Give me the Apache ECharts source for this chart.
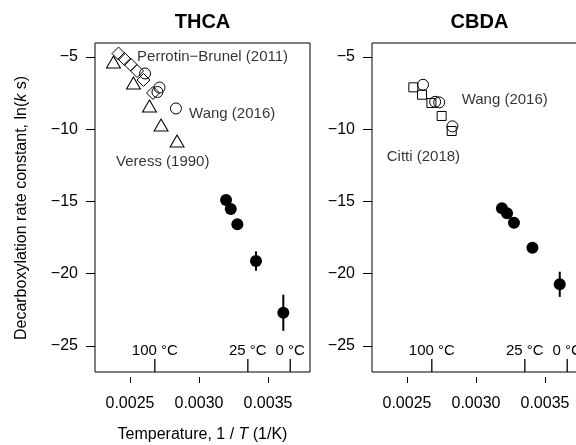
<!DOCTYPE html>
<html>
<head>
<meta charset="utf-8">
<script src="https://cdn.jsdelivr.net/npm/echarts@6/dist/echarts.min.js"></script>
<style>
  html, body { margin: 0; padding: 0; background: #fff; }
  #chart { width: 576px; height: 445px; }
</style>
</head>
<body>
<div id="chart"></div>
<script>
// THCA (left panel)
const thcaVeressX = [0.002380, 0.002525, 0.002641, 0.002725, 0.002841]
const thcaVeressY = [-5.35, -6.80, -8.39, -9.71, -10.81]
const thcaPerrotinX = [0.002417, 0.002460, 0.002504, 0.002551, 0.002598, 0.002667]
const thcaPerrotinY = [-4.76, -5.14, -5.52, -5.97, -6.59, -7.49]
const thcaWangX = [0.002609, 0.002714, 0.002699, 0.002833]
const thcaWangY = [-6.14, -7.11, -7.42, -8.56]
const thcaOwnX = [0.003196, 0.003230, 0.003278, 0.003413, 0.003611]
const thcaOwnY = [-14.90, -15.52, -16.58, -19.12, -22.70]
const thcaOwnErr = [0.15, 0.15, 0.15, 0.67, 1.25]

// CBDA (right panel)
const cbdaCittiX = [0.002546, 0.002609, 0.002677, 0.002751, 0.002824]
const cbdaCittiY = [-7.10, -7.61, -8.18, -9.08, -10.12]
const cbdaWangX = [0.002616, 0.002704, 0.002733, 0.002829]
const cbdaWangY = [-6.92, -8.10, -8.14, -9.80]
const cbdaOwnX = [0.003188, 0.003225, 0.003275, 0.003409, 0.003607]
const cbdaOwnY = [-15.47, -15.82, -16.47, -18.20, -20.73]
const cbdaOwnErr = [0.15, 0.15, 0.15, 0.20, 0.87]

// axes
const xTicks = [0.0025, 0.0030, 0.0035]
const yTicks = [-25, -20, -15, -10, -5]
const tempC = [100, 25, 0]
const tempLabels = ['100 °C', '25 °C', '0 °C']
const tempX = tempC.map(t => 1 / (t + 273.15))
const xMin = 0.0022464
const xMax = 0.0038044
const yMin = -26.80
const yMax = -4.03

// in-panel labels
const thcaNotes = [
  { name: 'Perrotin−Brunel (2011)', value: [0.002551, -5.0] },
  { name: 'Wang (2016)', value: [0.002928, -8.94] },
  { name: 'Veress (1990)', value: [0.002399, -12.27] }
]
const cbdaNotes = [
  { name: 'Wang (2016)', value: [0.002896, -7.98] },
  { name: 'Citti (2018)', value: [0.002353, -11.92] }
]

const font = '"Liberation Sans", Arial, Helvetica, sans-serif'
const zip = (xs, ys) => xs.map((x, i) => [x, ys[i]])
const zip3 = (xs, ys, es) => xs.map((x, i) => [x, ys[i], es[i]])

const chart = echarts.init(document.getElementById('chart'), null, { renderer: 'canvas' })

// temperature labels sit inside the panel, above the bottom edge
const tempAxis = gi => ({
  type: 'value', gridIndex: gi, min: xMin, max: xMax, position: 'bottom',
  axisLine: { show: false },
  splitLine: { show: false },
  axisTick: { show: false },
  axisLabel: {
    show: true, inside: true, margin: 14, customValues: tempX,
    color: '#000', fontSize: 15, fontFamily: font,
    formatter: v => {
      let best = 0
      tempX.forEach((t, i) => { if (Math.abs(t - v) < Math.abs(tempX[best] - v)) best = i })
      return tempLabels[best]
    }
  }
})

const numAxis = gi => ({
  type: 'value', gridIndex: gi, min: xMin, max: xMax, position: 'bottom', offset: 5,
  axisLine: { show: false },
  splitLine: { show: false },
  axisTick: { show: true, length: 6, customValues: xTicks, lineStyle: { color: '#000', width: 1 } },
  axisLabel: {
    show: true, margin: 19, customValues: xTicks,
    color: '#000', fontSize: 16, fontFamily: font,
    formatter: v => v.toFixed(4)
  }
})

const yAxis = gi => ({
  type: 'value', gridIndex: gi, min: yMin, max: yMax,
  axisLine: { show: false },
  splitLine: { show: false },
  axisTick: { show: true, length: 9, customValues: yTicks, lineStyle: { color: '#000', width: 1 } },
  axisLabel: {
    show: true, margin: 17, customValues: yTicks,
    color: '#000', fontSize: 16, fontFamily: font,
    formatter: v => (v < 0 ? '\u2212' : '') + Math.abs(v)
  }
})

const openStyle = { color: 'rgba(0,0,0,0)', borderColor: '#000', borderWidth: 1, opacity: 1 }
const fillStyle = { color: '#000', opacity: 1 }

const scatter = (xi, yi, data, symbol, size, style) => ({
  type: 'scatter', xAxisIndex: xi, yAxisIndex: yi, data,
  symbol, symbolSize: size, itemStyle: style, z: 3, silent: true
})

// vertical segment around each point: [x, y, half-length in data units]
const errBars = (xi, yi, data) => ({
  type: 'custom', xAxisIndex: xi, yAxisIndex: yi, data, z: 2, silent: true,
  encode: { x: 0, y: 1 },
  renderItem: (params, api) => {
    const x = api.value(0), y = api.value(1), e = api.value(2)
    const p1 = api.coord([x, y - e])
    const p2 = api.coord([x, y + e])
    return {
      type: 'line',
      shape: { x1: p1[0], y1: p1[1], x2: p1[0], y2: p2[1] },
      style: { stroke: '#000', lineWidth: 2 }
    }
  }
})

// short upward ticks from the panel floor at the temperature marks
const tempTicks = (xi, yi) => ({
  type: 'custom', xAxisIndex: xi, yAxisIndex: yi, z: 4, silent: true,
  data: tempX.map(t => [t, -26]),
  encode: { x: 0, y: 1 },
  renderItem: (params, api) => {
    const p = api.coord([api.value(0), yMin])
    return {
      type: 'line',
      shape: { x1: p[0], y1: p[1], x2: p[0], y2: p[1] - 13 },
      style: { stroke: '#000', lineWidth: 1.3 }
    }
  }
})

const notes = (xi, yi, data) => ({
  type: 'scatter', xAxisIndex: xi, yAxisIndex: yi, data, symbolSize: 0, silent: true,
  label: { show: true, position: 'right', distance: 0, formatter: '{b}', color: '#000', fontSize: 15, fontFamily: font }
})

chart.setOption({
  animation: false,
  backgroundColor: '#fff',
  grid: [
    { left: 95, top: 43, width: 215, height: 329, show: true, borderColor: '#000', borderWidth: 1, outerBoundsMode: 'none' },
    { left: 372, top: 43, width: 215, height: 329, show: true, borderColor: '#000', borderWidth: 1, outerBoundsMode: 'none' }
  ],
  xAxis: [tempAxis(0), numAxis(0), tempAxis(1), numAxis(1)],
  yAxis: [yAxis(0), yAxis(1)],
  graphic: [
    { type: 'text', x: 202.5, y: 22, style: { text: 'THCA', align: 'center', verticalAlign: 'middle', font: 'bold 20px ' + font, fill: '#000' } },
    { type: 'text', x: 479.5, y: 22, style: { text: 'CBDA', align: 'center', verticalAlign: 'middle', font: 'bold 20px ' + font, fill: '#000' } },
    {
      type: 'text', x: 202.5, y: 435,
      style: {
        text: 'Temperature, 1 / {i|T} (1/K)', align: 'center', verticalAlign: 'middle',
        fontSize: 16, fontFamily: font, fill: '#000',
        rich: { i: { fontStyle: 'italic', fontSize: 16, fontFamily: font, fill: '#000' } }
      }
    },
    {
      type: 'text', x: 22, y: 208, rotation: Math.PI / 2,
      style: {
        text: 'Decarboxylation rate constant, ln({i|k} s)', align: 'center', verticalAlign: 'middle',
        fontSize: 16, fontFamily: font, fill: '#000',
        rich: { i: { fontStyle: 'italic', fontSize: 16, fontFamily: font, fill: '#000' } }
      }
    }
  ],
  series: [
    scatter(1, 0, zip(thcaVeressX, thcaVeressY), 'triangle', [14, 12], openStyle),
    scatter(1, 0, zip(thcaPerrotinX, thcaPerrotinY), 'diamond', [13, 13], openStyle),
    scatter(1, 0, zip(thcaWangX, thcaWangY), 'circle', 11, openStyle),
    errBars(1, 0, zip3(thcaOwnX, thcaOwnY, thcaOwnErr)),
    scatter(1, 0, zip(thcaOwnX, thcaOwnY), 'circle', 12, fillStyle),
    notes(1, 0, thcaNotes),
    tempTicks(1, 0),

    scatter(3, 1, zip(cbdaCittiX, cbdaCittiY), 'rect', 9, openStyle),
    scatter(3, 1, zip(cbdaWangX, cbdaWangY), 'circle', 11, openStyle),
    errBars(3, 1, zip3(cbdaOwnX, cbdaOwnY, cbdaOwnErr)),
    scatter(3, 1, zip(cbdaOwnX, cbdaOwnY), 'circle', 12, fillStyle),
    notes(3, 1, cbdaNotes),
    tempTicks(3, 1)
  ]
})
</script>
</body>
</html>
